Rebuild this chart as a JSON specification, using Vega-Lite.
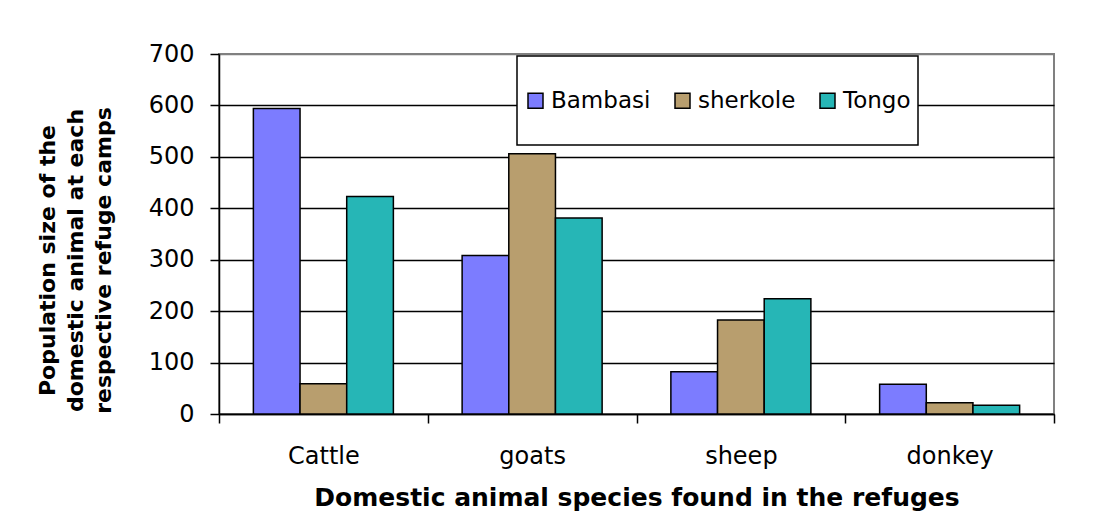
{
  "$schema": "https://vega.github.io/schema/vega-lite/v6.json",
  "width": 835,
  "height": 360,
  "autosize": {"type": "none"},
  "padding": {"left": 219, "top": 54, "right": 41, "bottom": 109},
  "background": "white",
  "data": {
    "values": [
      {"animal": "Cattle", "camp": "Bambasi", "value": 594},
      {"animal": "Cattle", "camp": "sherkole", "value": 59},
      {"animal": "Cattle", "camp": "Tongo", "value": 423},
      {"animal": "goats", "camp": "Bambasi", "value": 308},
      {"animal": "goats", "camp": "sherkole", "value": 506},
      {"animal": "goats", "camp": "Tongo", "value": 381},
      {"animal": "sheep", "camp": "Bambasi", "value": 82},
      {"animal": "sheep", "camp": "sherkole", "value": 183},
      {"animal": "sheep", "camp": "Tongo", "value": 224},
      {"animal": "donkey", "camp": "Bambasi", "value": 58},
      {"animal": "donkey", "camp": "sherkole", "value": 22},
      {"animal": "donkey", "camp": "Tongo", "value": 17}
    ]
  },
  "mark": {"type": "bar", "stroke": "black", "strokeWidth": 1.5},
  "encoding": {
    "x": {
      "field": "animal",
      "type": "nominal",
      "sort": ["Cattle", "goats", "sheep", "donkey"],
      "scale": {"paddingInner": 0, "paddingOuter": 0},
      "axis": {
        "title": "Domestic animal species found in the refuges",
        "titleFont": "DejaVu Sans",
        "titleFontSize": 25,
        "titleFontWeight": "bold",
        "titleColor": "black",
        "titlePadding": 17,
        "labelFont": "DejaVu Sans",
        "labelFontSize": 24,
        "labelColor": "black",
        "labelAngle": 0,
        "labelPadding": 21,
        "tickBand": "extent",
        "tickSize": 9,
        "tickColor": "black",
        "tickWidth": 1.5,
        "domainColor": "black",
        "domainWidth": 1.5,
        "grid": false
      }
    },
    "xOffset": {
      "field": "camp",
      "type": "nominal",
      "sort": ["Bambasi", "sherkole", "Tongo"],
      "scale": {"paddingInner": 0, "paddingOuter": 0.7366}
    },
    "y": {
      "field": "value",
      "type": "quantitative",
      "scale": {"domain": [0, 700], "nice": false},
      "axis": {
        "title": ["Population size of the", "domestic animal at each", "respective refuge camps"],
        "titleFont": "DejaVu Sans",
        "titleFontSize": 22,
        "titleFontWeight": "bold",
        "titleColor": "black",
        "titleLineHeight": 28,
        "titleAngle": -90,
        "titleAlign": "center",
        "titleBaseline": "middle",
        "titleX": -172,
        "titleY": 206,
        "values": [0, 100, 200, 300, 400, 500, 600, 700],
        "labelFont": "DejaVu Sans",
        "labelFontSize": 24,
        "labelColor": "black",
        "labelPadding": 16,
        "tickSize": 9,
        "tickColor": "black",
        "tickWidth": 1.5,
        "domainColor": "black",
        "domainWidth": 1.5,
        "grid": true,
        "gridColor": {"condition": {"test": "datum.value === 700", "value": "#808080"}, "value": "black"},
        "gridWidth": 1.5,
        "gridOpacity": 1
      }
    },
    "color": {
      "field": "camp",
      "type": "nominal",
      "sort": ["Bambasi", "sherkole", "Tongo"],
      "scale": {"domain": ["Bambasi", "sherkole", "Tongo"], "range": ["#7c7cff", "#b89e6e", "#26b6b6"]},
      "legend": {
        "title": " ",
        "titleFontSize": 12,
        "titlePadding": 14,
        "orient": "none",
        "legendX": 298,
        "legendY": 2,
        "direction": "horizontal",
        "fillColor": "white",
        "strokeColor": "black",
        "padding": 7,
        "columnPadding": 20,
        "symbolType": "square",
        "symbolSize": 225,
        "symbolStrokeColor": "black",
        "symbolStrokeWidth": 1.5,
        "symbolOpacity": 1,
        "labelFont": "DejaVu Sans",
        "labelFontSize": 23,
        "labelColor": "black",
        "labelOffset": 4,
        "labelLimit": 300,
        "labelLineHeight": 12,
        "labelExpr": "[datum.label, '']",
        "encode": {"legend": {"update": {"strokeWidth": {"value": 1.5}}}}
      }
    }
  },
  "config": {
    "view": {"stroke": "#808080", "strokeWidth": 2}
  }
}
